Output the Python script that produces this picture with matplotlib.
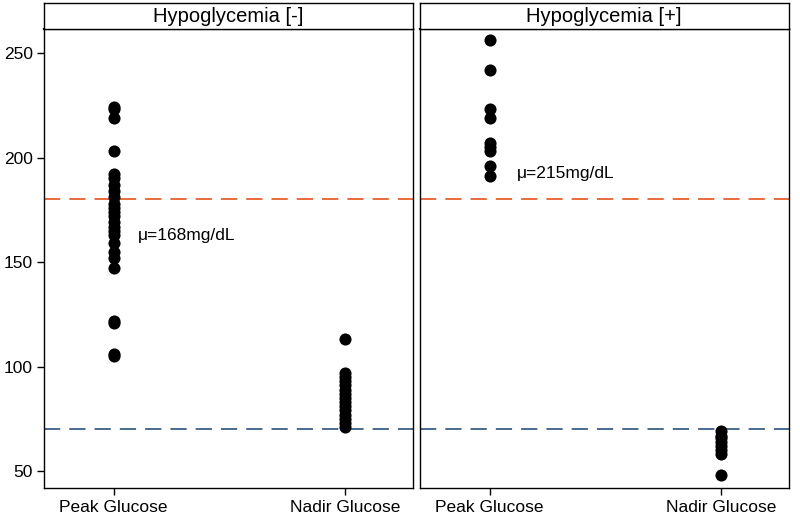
import matplotlib
matplotlib.use("Agg")
import matplotlib.pyplot as plt

plt.rcParams['font.family'] = ['Liberation Sans', 'DejaVu Sans']

categories = ["Peak Glucose", "Nadir Glucose"]
panels = ["Hypoglycemia [-]", "Hypoglycemia [+]"]

neg_peak = [224, 223, 219, 203, 192, 190, 187, 184, 181, 178, 176, 174, 172,
            169, 167, 165, 163, 159, 155, 152, 147, 122, 121, 106, 105]
neg_nadir = [113, 97, 95, 93, 91, 89, 87, 85, 83, 81, 79, 77, 75, 73, 71]
pos_peak = [256, 242, 223, 219, 207, 205, 203, 196, 191]
pos_nadir = [69, 67, 66, 64, 62, 60, 58, 48]

mean_labels = ["\u03bc=168mg/dL", "\u03bc=215mg/dL"]
mean_label_y = [162.5, 192.5]
mean_label_x = [1.103, 1.12]
upper_thr = 180
lower_thr = 70
yticks = [50, 100, 150, 200, 250]

fig = plt.figure(figsize=(8, 5.17), dpi=100)
data = [(neg_peak, neg_nadir), (pos_peak, pos_nadir)]
lefts = [44 / 800, 420 / 800]
W, H = 800, 517
for i, (peak, nadir) in enumerate(data):
    ax = fig.add_axes([lefts[i], (H - 488) / H, 368.5 / W, (488 - 29) / H])
    ax.scatter([1] * len(peak), peak, s=76, color='black', zorder=3, linewidths=0)
    ax.scatter([2] * len(nadir), nadir, s=76, color='black', zorder=3, linewidths=0)
    ax.axhline(upper_thr, color='#E8602C', lw=1.3, dashes=(9, 5), zorder=2)
    ax.axhline(lower_thr, color='#3B5F86', lw=1.3, dashes=(9, 5), zorder=2)
    ax.set_xlim(0.70, 2.29)
    ax.set_ylim(41.9, 261.5)
    ax.set_xticks([1, 2])
    ax.set_xticklabels(categories, fontsize=12.5)
    ax.set_yticks(yticks)
    if i == 0:
        ax.set_yticklabels([str(t) for t in yticks], fontsize=12.5)
        ax.tick_params(axis='y', length=5, width=1, pad=3)
    else:
        ax.tick_params(axis='y', left=False, labelleft=False)
    ax.tick_params(axis='x', length=5, width=1, pad=4)
    for s in ax.spines.values():
        s.set_linewidth(1.0)
    ax.spines['top'].set_linewidth(1.6)
    ax.text(mean_label_x[i], mean_label_y[i], mean_labels[i], fontsize=12.5,
            va='center', ha='left')
    # strip header
    sax = fig.add_axes([lefts[i], (H - 29) / H, 368.5 / W, 26 / H])
    sax.set_xticks([])
    sax.set_yticks([])
    for s in sax.spines.values():
        s.set_linewidth(1.0)
    sax.text(0.5, 0.5, panels[i], fontsize=14.5, ha='center', va='center',
             transform=sax.transAxes)

fig.savefig("out.png", dpi=100)
